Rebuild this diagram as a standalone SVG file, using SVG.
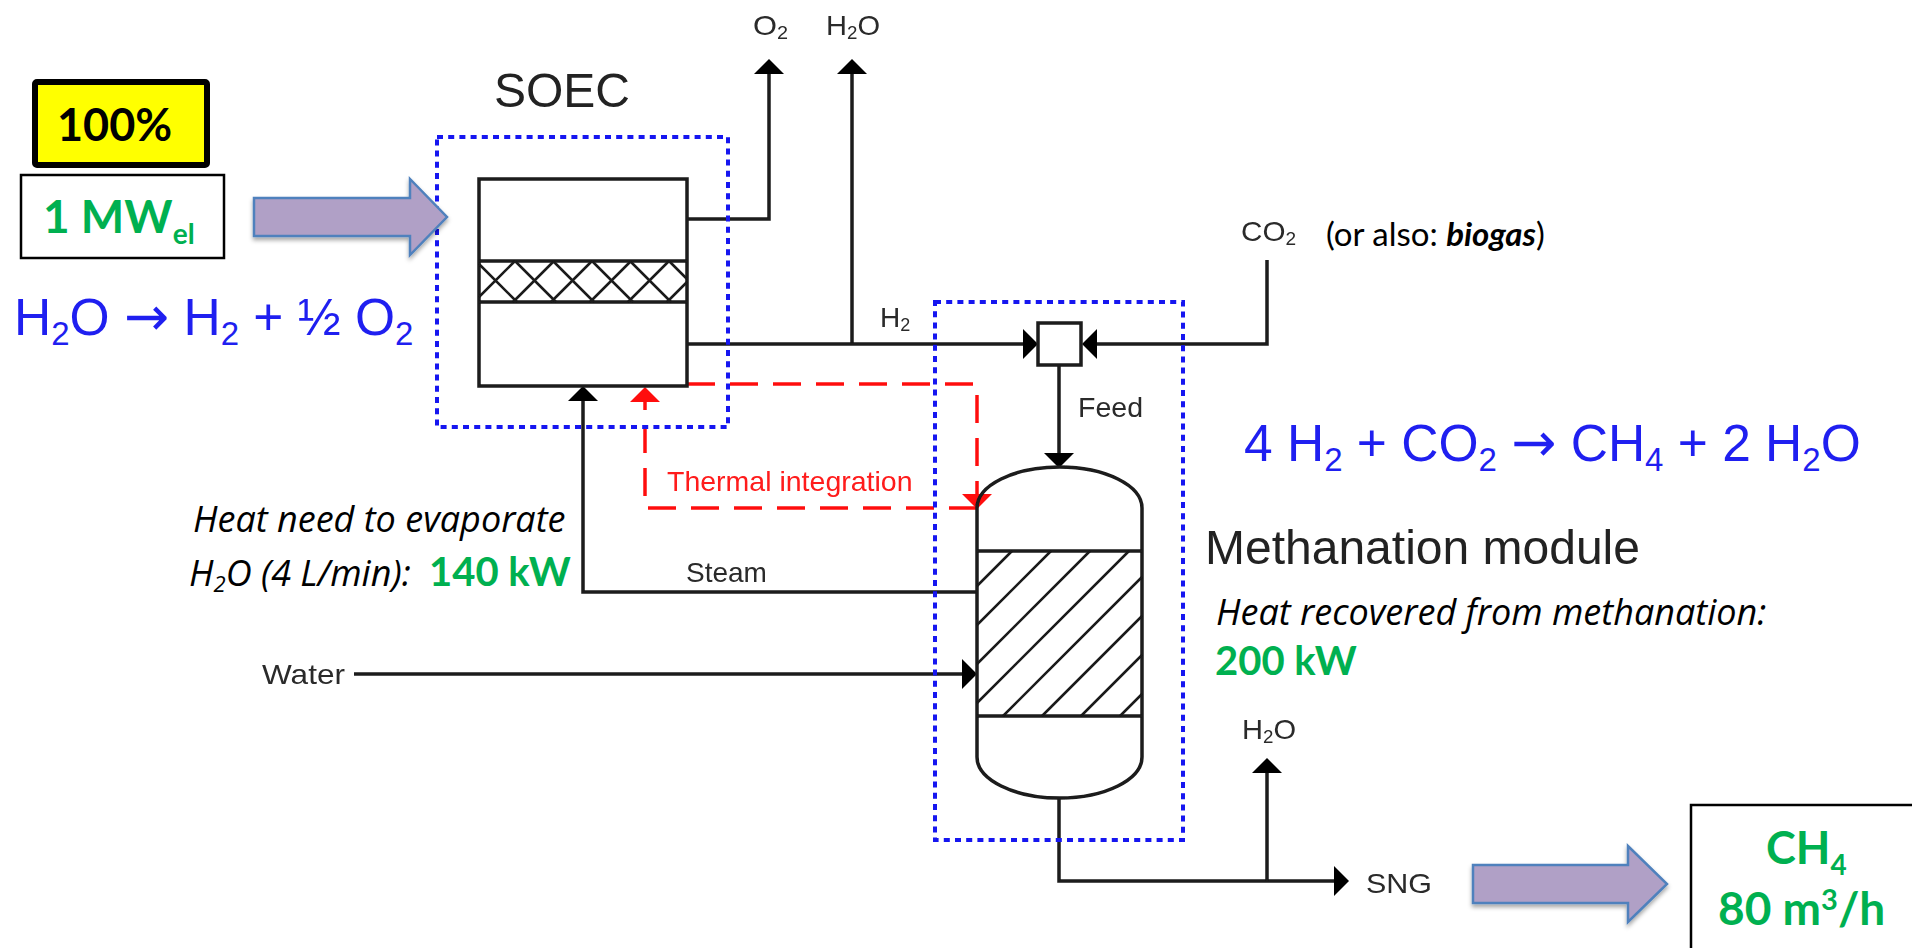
<svg xmlns="http://www.w3.org/2000/svg" width="1912" height="948" viewBox="0 0 1912 948">
<style>
text{font-family:"Liberation Sans",Arial,sans-serif}
.soft{filter:url(#soft)}
.ln{fill:none;stroke:#1a1a1a;stroke-width:3.5}
.th{fill:none;stroke:#1a1a1a;stroke-width:2.5}
.arr{marker-end:url(#ah)}
.red{fill:none;stroke:#ff0f0f;stroke-width:3.5;stroke-dasharray:28 15}
.redhead{marker-end:url(#rh)}
.dot{fill:none;stroke:#1414f0;stroke-width:4;stroke-dasharray:6 5.2}
.sm{font-size:28px;fill:#2a2a2a}
.sub{font-size:18px}
text.g{font-family:Lato,"Liberation Sans",sans-serif;font-weight:700;fill:#00b050}
text.it{font-family:"Open Sans","Liberation Sans",sans-serif;font-style:italic;font-size:36px;fill:#000}
text.cal{font-family:Lato,"Liberation Sans",sans-serif}
.eq{font-size:51.5px;fill:#1f1ff0}
.s2{font-size:33px}
.ar{font-family:"DejaVu Sans",sans-serif;font-size:54px}
.big{fill:#b0a0c6;stroke:#4f81bd;stroke-width:2.5;filter:url(#shadow)}
.box{fill:#fff;stroke:#000;stroke-width:2.5}
</style>
<defs>
<filter id="soft" x="-5%" y="-5%" width="110%" height="110%"><feGaussianBlur stdDeviation="0.6"/></filter>
<filter id="shadow" x="-10%" y="-20%" width="120%" height="140%"><feDropShadow dx="0" dy="3" stdDeviation="2" flood-color="#000" flood-opacity="0.35"/></filter>
<marker id="ah" markerUnits="userSpaceOnUse" markerWidth="16" markerHeight="32" refX="0" refY="15" orient="auto"><path d="M0,0L15,15L0,30Z" fill="#000"/></marker>
<marker id="rh" markerUnits="userSpaceOnUse" markerWidth="16" markerHeight="32" refX="0" refY="15" orient="auto"><path d="M0,0L15,15L0,30Z" fill="#ff0f0f"/></marker>
</defs>
<rect width="1912" height="948" fill="#fff"/>

<g id="connectors" class="soft">
<path class="ln arr" d="M687,219H769V74"/>
<path class="ln arr" d="M852,344V74"/>
<path class="ln arr" d="M687,344H1023"/>
<path class="ln arr" d="M1267,260V344H1097"/>
<path class="ln arr" d="M1059,365V453"/>
<path class="ln arr" d="M977,592H583V401"/>
<path class="ln arr" d="M354,674H962"/>
<path class="ln arr" d="M1059,798V881H1334"/>
<path class="ln arr" d="M1267,881V773"/>
<path class="red redhead" d="M687,384H977V494"/>
<path class="red redhead" d="M977,508H645V402"/>
</g>

<g id="soec-boundary" class="soft"><rect class="dot" x="437" y="137" width="291" height="290"/></g>
<g id="methanation-boundary" class="soft"><rect class="dot" x="935" y="302" width="248" height="538"/></g>

<g id="soec-stack" class="soft">
<rect class="ln" x="479" y="179" width="208" height="207"/>
<path class="ln" d="M479,261H687M479,302H687"/>
<path class="th" d="M479,264L517,302M515,261L556,302M553,261L594,302M592,261L633,302M630,261L671,302M669,261L687,279M479,297L515,261M513,302L554,261M551,302L592,261M590,302L631,261M628,302L669,261M667,302L687,282"/>
</g>

<g id="mixer" class="soft"><rect x="1038" y="323" width="43" height="42" fill="#fff" stroke="#1a1a1a" stroke-width="3.5"/></g>

<g id="reactor" class="soft">
<path class="ln" d="M977,508A82.5,41 0 0 1 1142,508V757A82.5,41 0 0 1 977,757Z"/>
<path class="ln" d="M977,551H1142M977,716H1142"/>
<path class="th" d="M977,586L1012,551M977,625L1051,551M977,664L1090,551M977,703L1129,551M1003,716L1142,577M1042,716L1142,616M1081,716L1142,655M1120,716L1142,694"/>
</g>

<g id="labels" class="soft">
<text x="494" y="107" font-size="48" fill="#222">SOEC</text>
<text x="753" y="35" class="sm" textLength="35" lengthAdjust="spacingAndGlyphs">O<tspan class="sub" dy="4">2</tspan></text>
<text x="826" y="35" class="sm" textLength="54" lengthAdjust="spacingAndGlyphs">H<tspan class="sub" dy="4">2</tspan><tspan dy="-4">O</tspan></text>
<text x="1241" y="241" class="sm" textLength="55" lengthAdjust="spacingAndGlyphs">CO<tspan class="sub" dy="4">2</tspan></text>
<text x="880" y="327" class="sm">H<tspan class="sub" dy="4">2</tspan></text>
<text x="1078" y="417" class="sm" textLength="65" lengthAdjust="spacingAndGlyphs">Feed</text>
<text x="667" y="491" font-size="28.5" fill="#ff1a1a">Thermal integration</text>
<text x="686" y="582" class="sm">Steam</text>
<text x="262" y="684" class="sm" textLength="83" lengthAdjust="spacingAndGlyphs">Water</text>
<text x="1242" y="739" class="sm" textLength="54" lengthAdjust="spacingAndGlyphs">H<tspan class="sub" dy="4">2</tspan><tspan dy="-4">O</tspan></text>
<text x="1366" y="893" class="sm" textLength="66" lengthAdjust="spacingAndGlyphs">SNG</text>
<text x="1205" y="564" font-size="48" fill="#222">Methanation module</text>
</g>

<g id="power-input">
<rect x="35" y="82" width="172" height="83" rx="2" fill="#ffff00" stroke="#000" stroke-width="6"/>
<text x="57" y="141" class="cal" font-weight="700" font-size="45" fill="#000">100%</text>
<rect class="box" x="21" y="175" width="203" height="83"/>
<text x="43" y="233" class="g" font-size="46">1 MW<tspan font-size="28" dy="11">el</tspan></text>
<path class="big" d="M254,198H410V179L447,217L410,255V236H254Z"/>
</g>

<g id="output">
<path class="big" d="M1473,865H1628V846L1667,884L1628,922V903H1473Z"/>
<rect class="box" x="1691" y="805" width="240" height="170"/>
<text x="1766" y="864" class="g" font-size="45">CH<tspan font-size="28" dy="11">4</tspan></text>
<text x="1718" y="925" class="g" font-size="46">80 m<tspan font-size="29" dy="-15">3</tspan><tspan dy="15">/h</tspan></text>
</g>

<g id="notes">
<text x="14" y="335" class="eq">H<tspan class="s2" dy="10">2</tspan><tspan dy="-10">O </tspan><tspan class="ar">→</tspan> H<tspan class="s2" dy="10">2</tspan><tspan dy="-10"> + ½ O</tspan><tspan class="s2" dy="10">2</tspan></text>
<text x="1244" y="461" class="eq">4 H<tspan class="s2" dy="10">2</tspan><tspan dy="-10"> + CO</tspan><tspan class="s2" dy="10">2</tspan><tspan dy="-10"> </tspan><tspan class="ar">→</tspan> CH<tspan class="s2" dy="10">4</tspan><tspan dy="-10"> + 2 H</tspan><tspan class="s2" dy="10">2</tspan><tspan dy="-10">O</tspan></text>
<text x="1326" y="246" class="cal" font-size="33" fill="#000">(or also: <tspan font-weight="700" font-style="italic">biogas</tspan>)</text>
<text x="193" y="532" class="it">Heat need to evaporate</text>
<text x="189" y="586" class="it">H<tspan font-size="22" dy="6">2</tspan><tspan dy="-6">O (4 L/min): </tspan><tspan x="429" style="font-family:Lato,sans-serif;font-style:normal;font-weight:700;fill:#00b050" font-size="40">140 kW</tspan></text>
<text x="1216" y="625" class="it">Heat recovered from methanation:</text>
<text x="1215" y="675" class="g" font-size="40">200 kW</text>
</g>
</svg>
